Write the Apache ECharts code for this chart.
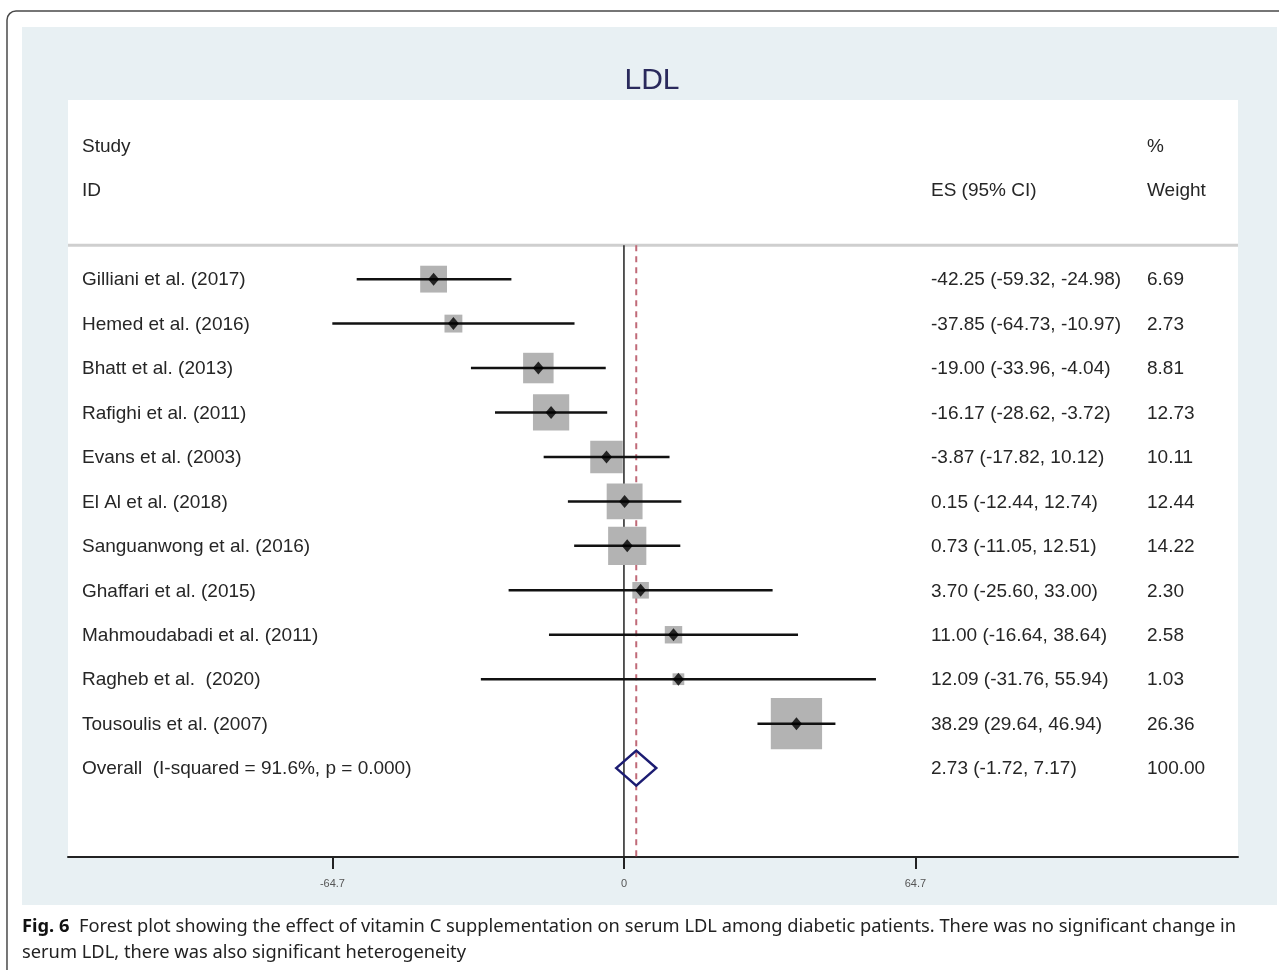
<!DOCTYPE html>
<html>
<head>
<meta charset="utf-8">
<script src="https://cdn.jsdelivr.net/npm/echarts@6/dist/echarts.min.js"></script>
<style>
html,body{margin:0;padding:0;background:#fff;}
#chart{width:1279px;height:970px;}
</style>
</head>
<body>
<div id="chart"></div>
<script>
// ---- data ----
const studies = ["Gilliani et al. (2017)","Hemed et al. (2016)","Bhatt et al. (2013)","Rafighi et al. (2011)","Evans et al. (2003)","El Al et al. (2018)","Sanguanwong et al. (2016)","Ghaffari et al. (2015)","Mahmoudabadi et al. (2011)","Ragheb et al.  (2020)","Tousoulis et al. (2007)"];
const es     = [-42.25,-37.85,-19.00,-16.17,-3.87,0.15,0.73,3.70,11.00,12.09,38.29];
const ciLow  = [-59.32,-64.73,-33.96,-28.62,-17.82,-12.44,-11.05,-25.60,-16.64,-31.76,29.64];
const ciHigh = [-24.98,-10.97,-4.04,-3.72,10.12,12.74,12.51,33.00,38.64,55.94,46.94];
const weights= [6.69,2.73,8.81,12.73,10.11,12.44,14.22,2.30,2.58,1.03,26.36];
const overallLabel = "Overall  (I-squared = 91.6%, p = 0.000)";
const overallES = 2.73, overallLow = -1.72, overallHigh = 7.17, overallWeight = 100.00;
const tickValues = [-64.7, 0, 64.7];
const headerStudy = ["Study","ID"];
const headerES = "ES (95% CI)";
const headerWeight = ["%","Weight"];
const titleText = "LDL";
const captionBold = "Fig. 6";
const captionLine1 = "  Forest plot showing the effect of vitamin C supplementation on serum LDL among diabetic patients. There was no significant change in";
const captionLine2 = "serum LDL, there was also significant heterogeneity";

// ---- layout constants ----
const X_MIN = -123.4, X_MAX = 136.3;
const Y_MIN = -4.03, Y_MAX = 13;
const SEP_ROW = -0.76;
const N = studies.length;
const OVR = N;
const TXT_FONT = '19px "Liberation Sans", Arial, sans-serif';
const TXT_COLOR = '#262626';

const fmt = v => v.toFixed(2);
const esText = studies.map((s,i)=> fmt(es[i]) + " (" + fmt(ciLow[i]) + ", " + fmt(ciHigh[i]) + ")");
esText.push(fmt(overallES) + " (" + fmt(overallLow) + ", " + fmt(overallHigh) + ")");
const wText = weights.map(fmt); wText.push(fmt(overallWeight));
const names = studies.concat([overallLabel]);

// caption font fit
const mc = document.createElement('canvas').getContext('2d');
mc.font = 'bold 100px "Noto Sans"'; const wb = mc.measureText(captionBold).width;
mc.font = '100px "Noto Sans"'; const wn = mc.measureText(captionLine1).width;
const capSize = Math.round(100 * 1214 / (wb + wn) * 10) / 10;

const chart = echarts.init(document.getElementById('chart'), null, {renderer:'canvas'});

const ciData = studies.map((s,i)=>[ciLow[i], ciHigh[i], i]);
const boxData = studies.map((s,i)=>[es[i], i, weights[i]]);
const ptData = studies.map((s,i)=>[es[i], i]);
const labelRows = [-3,-2].concat(names.map((s,i)=>i));

const option = {
  animation:false,
  backgroundColor:'#ffffff',
  title:{
    text:titleText, left:647, top:61, textAlign:'center',
    textStyle:{fontSize:30, fontWeight:'normal', color:'#2a2a5c', fontFamily:'"Liberation Sans", Arial, sans-serif'}
  },
  graphic:[
    {type:'rect', z:-10, silent:true, shape:{x:22,y:27,width:1255,height:878}, style:{fill:'#e8f0f3'}},
    {type:'rect', z:-9, silent:true, shape:{x:7,y:11,width:1300,height:1000,r:9}, style:{fill:'none', stroke:'#4a4a4a', lineWidth:1.5}},
    {type:'text', x:22, y:927, style:{
      text:'{b|'+captionBold+'}'+captionLine1, fill:'#222', fontSize:capSize, fontFamily:'"Noto Sans"', verticalAlign:'middle',
      rich:{b:{fontWeight:'bold', fontSize:capSize, fontFamily:'"Noto Sans"', fill:'#111'}}}},
    {type:'text', x:22, y:953, style:{text:captionLine2, fill:'#222', fontSize:capSize, fontFamily:'"Noto Sans"', verticalAlign:'middle'}}
  ],
  grid:{left:68, right:41, top:100, bottom:113, show:true, backgroundColor:'#ffffff', borderWidth:0},
  xAxis:{
    type:'value', min:X_MIN, max:X_MAX, position:'bottom',
    axisLine:{show:true, onZero:false, lineStyle:{color:'#222', width:2}},
    axisTick:{show:true, length:12, customValues:tickValues, lineStyle:{color:'#222', width:2}},
    axisLabel:{show:true, customValues:tickValues, margin:21, fontSize:11, color:'#555', fontFamily:'"Liberation Sans", Arial, sans-serif', formatter:v=>String(v)},
    splitLine:{show:false}
  },
  yAxis:{type:'value', min:Y_MIN, max:Y_MAX, inverse:true, show:false, splitLine:{show:false}},
  series:[
    {type:'line', name:'sep', data:[[X_MIN,SEP_ROW],[X_MAX,SEP_ROW]], symbol:'none', z:1,
      lineStyle:{color:'#cfcfcf', width:3}},
    {type:'line', name:'null', data:[[0,SEP_ROW],[0,Y_MAX]], symbol:'none', z:2,
      lineStyle:{color:'#222', width:1.5}},
    {type:'line', name:'overallLine', data:[[overallES,SEP_ROW],[overallES,Y_MAX]], symbol:'none', z:2,
      lineStyle:{color:'#c06a78', width:2, type:[6,5]}},
    {type:'custom', name:'boxes', data:boxData, z:3, encode:{x:0,y:1},
      renderItem:(params, api)=>{
        const c = api.coord([api.value(0), api.value(1)]);
        const s = 9.6*Math.sqrt(api.value(2)) + 2;
        return {type:'rect', shape:{x:c[0]-s/2, y:c[1]-s/2, width:s, height:s}, style:{fill:'#b3b3b3'}};
      }},
    {type:'custom', name:'ci', data:ciData, z:4, encode:{x:[0,1], y:2},
      renderItem:(params, api)=>{
        const a = api.coord([api.value(0), api.value(2)]);
        const b = api.coord([api.value(1), api.value(2)]);
        return {type:'line', shape:{x1:a[0],y1:a[1],x2:b[0],y2:b[1]}, style:{stroke:'#111', lineWidth:2.5}};
      }},
    {type:'scatter', name:'es', data:ptData, z:5, symbol:'diamond', symbolSize:[11,13],
      itemStyle:{color:'#000'}},
    {type:'custom', name:'overall', data:[[overallES, overallLow, overallHigh, OVR]], z:5, encode:{x:[1,2], y:3},
      renderItem:(params, api)=>{
        const c = api.coord([api.value(0), api.value(3)]);
        const l = api.coord([api.value(1), api.value(3)]);
        const r = api.coord([api.value(2), api.value(3)]);
        const h = 17.5;
        return {type:'polygon', shape:{points:[[l[0],c[1]],[c[0],c[1]-h],[r[0],c[1]],[c[0],c[1]+h]]},
          style:{fill:'none', stroke:'#1c1c72', lineWidth:2.5}};
      }},
    {type:'custom', name:'labels', data:labelRows.map(r=>[0,r]), z:6, encode:{x:0,y:1},
      renderItem:(params, api)=>{
        const row = api.value(1);
        const y = api.coord([0,row])[1] + 1;
        const x0 = params.coordSys.x;
        const items = [];
        const t = (x, text) => items.push({type:'text', x:x, y:y, style:{text:text, font:TXT_FONT, fill:TXT_COLOR, align:'left', verticalAlign:'middle'}});
        if (row === -3) { t(x0+14, headerStudy[0]); t(x0+1079, headerWeight[0]); }
        else if (row === -2) { t(x0+14, headerStudy[1]); t(x0+863, headerES); t(x0+1079, headerWeight[1]); }
        else { t(x0+14, names[row]); t(x0+863, esText[row]); t(x0+1079, wText[row]); }
        return {type:'group', children:items};
      }}
  ]
};
chart.setOption(option);
</script>
</body>
</html>
